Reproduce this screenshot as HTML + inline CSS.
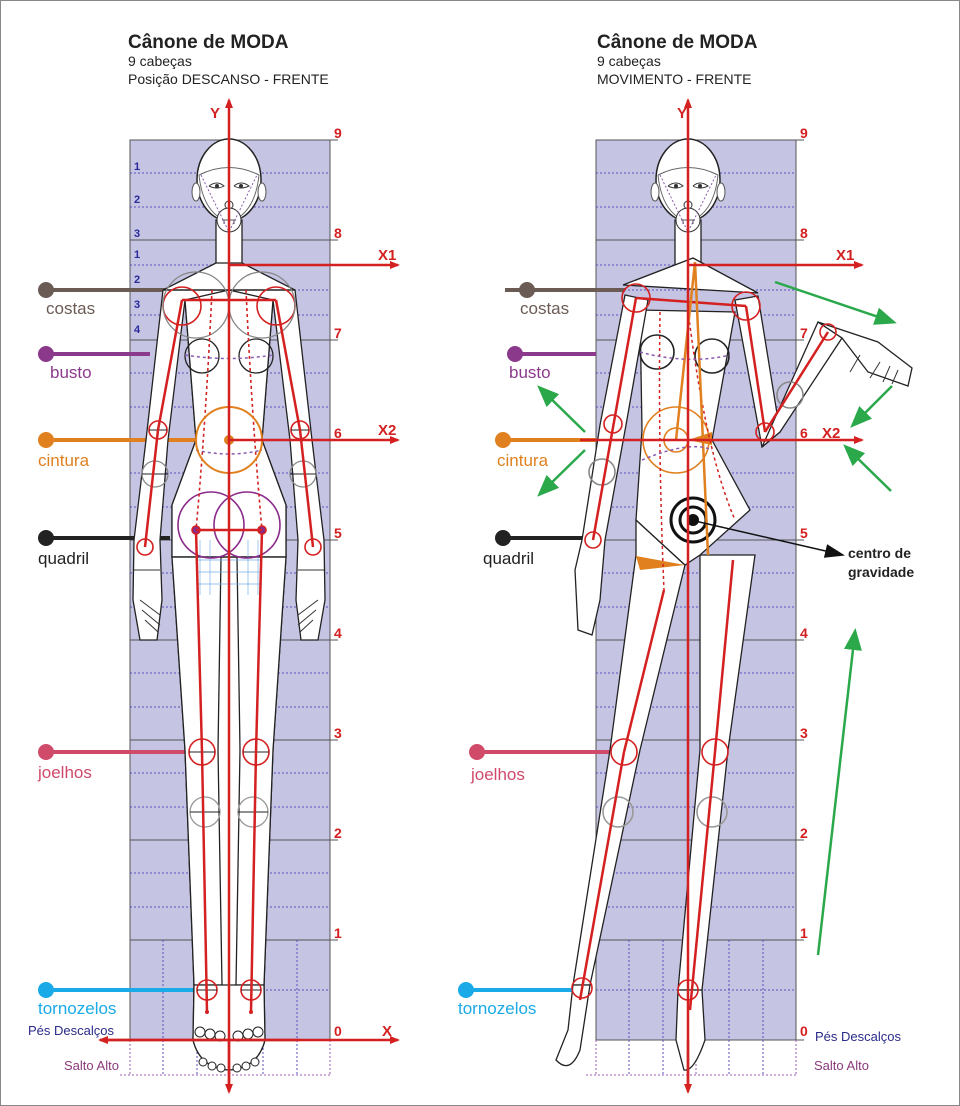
<!DOCTYPE html>
<html><head><meta charset="utf-8"><style>
html,body{margin:0;padding:0;background:#fff}
svg{display:block}
text{font-family:"Liberation Sans",sans-serif}
</style></head><body>
<svg width="960" height="1106" viewBox="0 0 960 1106" xmlns="http://www.w3.org/2000/svg">
<defs>
<marker id="ar" markerWidth="10" markerHeight="10" refX="8" refY="5" orient="auto" markerUnits="userSpaceOnUse"><path d="M0,1 L10,5 L0,9 z" fill="#d42020"/></marker>
<marker id="ag" markerWidth="22" markerHeight="18" refX="18" refY="9" orient="auto" markerUnits="userSpaceOnUse"><path d="M0,0 L22,9 L0,18 z" fill="#2aa84a"/></marker>
<marker id="ab" markerWidth="20" markerHeight="14" refX="18" refY="7" orient="auto" markerUnits="userSpaceOnUse"><path d="M0,0 L20,7 L0,14 z" fill="#111"/></marker>
<g id="grid">
<rect x="0" y="0" width="200" height="900" fill="#c5c4e2" stroke="#555" stroke-width="1"/>
<g stroke="#555" stroke-width="1">
<line x1="0" y1="100" x2="208" y2="100"/><line x1="0" y1="200" x2="208" y2="200"/><line x1="0" y1="300" x2="208" y2="300"/><line x1="0" y1="400" x2="208" y2="400"/><line x1="0" y1="500" x2="208" y2="500"/><line x1="0" y1="600" x2="208" y2="600"/><line x1="0" y1="700" x2="208" y2="700"/><line x1="0" y1="800" x2="208" y2="800"/><line x1="0" y1="0" x2="208" y2="0"/><line x1="0" y1="900" x2="208" y2="900"/>
</g>
<g stroke="#5a4fc0" stroke-width="1" stroke-dasharray="2,2">
<line x1="0" y1="33" x2="200" y2="33"/><line x1="0" y1="67" x2="200" y2="67"/>
<line x1="0" y1="125" x2="200" y2="125"/><line x1="0" y1="150" x2="200" y2="150"/><line x1="0" y1="175" x2="200" y2="175"/>
<line x1="0" y1="233" x2="200" y2="233"/><line x1="0" y1="267" x2="200" y2="267"/>
<line x1="0" y1="333" x2="200" y2="333"/><line x1="0" y1="367" x2="200" y2="367"/>
<line x1="0" y1="433" x2="200" y2="433"/><line x1="0" y1="467" x2="200" y2="467"/>
<line x1="0" y1="533" x2="200" y2="533"/><line x1="0" y1="567" x2="200" y2="567"/>
<line x1="0" y1="633" x2="200" y2="633"/><line x1="0" y1="667" x2="200" y2="667"/>
<line x1="0" y1="733" x2="200" y2="733"/><line x1="0" y1="767" x2="200" y2="767"/>
<line x1="0" y1="850" x2="200" y2="850"/>
<line x1="33" y1="800" x2="33" y2="935"/><line x1="67" y1="800" x2="67" y2="935"/><line x1="133" y1="800" x2="133" y2="935"/><line x1="167" y1="800" x2="167" y2="935"/>
</g>
<g stroke="#9a5ab0" stroke-width="1" stroke-dasharray="2,2" fill="none">
<line x1="-10" y1="935" x2="200" y2="935"/><line x1="0" y1="900" x2="0" y2="935"/><line x1="200" y1="900" x2="200" y2="935"/><line x1="100" y1="900" x2="100" y2="935"/>
</g>
<g fill="#d42020" font-size="14" font-weight="bold">
<text x="204" y="-2">9</text><text x="204" y="98">8</text><text x="204" y="198">7</text><text x="204" y="298">6</text><text x="204" y="398">5</text><text x="204" y="498">4</text><text x="204" y="598">3</text><text x="204" y="698">2</text><text x="204" y="798">1</text><text x="204" y="896">0</text>
</g>
</g>
<g id="head">
<ellipse cx="0" cy="40" rx="32" ry="41" fill="#fff" stroke="#222" stroke-width="1.5"/>
<path d="M-30,35 Q0,20 30,35 Q26,74 0,82 Q-26,74 -30,35" fill="none" stroke="#666"/>
<ellipse cx="-33" cy="52" rx="4" ry="9" fill="#fff" stroke="#555"/><ellipse cx="33" cy="52" rx="4" ry="9" fill="#fff" stroke="#555"/>
<path d="M-20,46 Q-12,40 -5,46 Q-12,50 -20,46 M5,46 Q12,40 20,46 Q12,50 5,46" fill="#fff" stroke="#333"/>
<circle cx="-12" cy="46" r="2" fill="#333"/><circle cx="12" cy="46" r="2" fill="#333"/>
<circle cx="0" cy="65" r="4" fill="#fff" stroke="#333"/>
<circle cx="0" cy="80" r="12" fill="#fff" stroke="#333"/>
<path d="M-7,80 h14 M-5,80 v4 M0,80 v4 M5,80 v4" stroke="#555" fill="none"/>
<path d="M-28,35 L0,92 L28,35" fill="none" stroke="#8a5ab0" stroke-dasharray="2,2"/>
</g>
<g id="half" fill="#fff" stroke="#222" stroke-width="1.3">
<path d="M216,263 L163,290 L146,440 L134,540 L133,600 L140,640 L157,640 L162,600 L160,540 L168,440 L185,300 L196,440 L172,505 L172,557 L185,750 L194,985 L193,1040 Q200,1068 229,1070 L229,557 L221,557 L221,540 L229,540 L229,263 z"/>
<path d="M185,300 L196,440 L172,505 L172,557 L229,557 L229,290 z"/>
<path d="M172,557 L185,750 L194,985 L222,985 L218,750 L221,557 z"/>
<path d="M194,985 L193,1040 Q200,1068 229,1070 L229,985 z"/>
<path d="M134,570 L160,570 M140,600 L160,615 M142,610 L160,625 M145,620 L158,632" fill="none" stroke="#333" stroke-width="1"/>
</g>
<g id="halfR" fill="none" stroke-width="1.6">
<circle cx="182" cy="306" r="19" stroke="#d42020"/>
<circle cx="196" cy="305" r="33" stroke="#888" stroke-width="1.3"/>
<circle cx="202" cy="356" r="17" stroke="#222" stroke-width="1.3"/>
<circle cx="158" cy="430" r="9" stroke="#d42020"/><line x1="149" y1="430" x2="167" y2="430" stroke="#222" stroke-width="1"/>
<circle cx="155" cy="474" r="13" stroke="#888" stroke-width="1.3"/><line x1="142" y1="474" x2="168" y2="474" stroke="#222" stroke-width="1"/>
<circle cx="145" cy="547" r="8" stroke="#d42020"/>
<circle cx="211" cy="525" r="33" stroke="#8a2a8a"/>
<circle cx="202" cy="752" r="13" stroke="#d42020"/><line x1="189" y1="752" x2="215" y2="752" stroke="#222" stroke-width="1"/>
<circle cx="205" cy="812" r="15" stroke="#999" stroke-width="1.3"/><line x1="190" y1="812" x2="220" y2="812" stroke="#222" stroke-width="1"/>
<circle cx="207" cy="990" r="10" stroke="#d42020"/><line x1="197" y1="990" x2="217" y2="990" stroke="#222" stroke-width="1"/>
<line x1="182" y1="300" x2="158" y2="430" stroke="#d42020" stroke-width="2.5"/>
<line x1="158" y1="430" x2="145" y2="547" stroke="#d42020" stroke-width="2.5"/>
<line x1="196" y1="530" x2="202" y2="752" stroke="#d42020" stroke-width="2.5"/>
<line x1="202" y1="752" x2="207" y2="1012" stroke="#d42020" stroke-width="2.5"/>
<path d="M212,290 Q206,420 196,530" stroke="#d42020" stroke-dasharray="3,3"/>
<circle cx="196" cy="530" r="4" fill="#8a2a8a" stroke="#d42020"/>
<circle cx="207" cy="1012" r="2" fill="#d42020"/>
<g stroke="#222" stroke-width="1"><circle cx="200" cy="1032" r="5" fill="#fff"/><circle cx="210" cy="1034" r="5" fill="#fff"/><circle cx="220" cy="1036" r="5" fill="#fff"/><circle cx="203" cy="1062" r="4" fill="#fff"/><circle cx="212" cy="1066" r="4" fill="#fff"/><circle cx="221" cy="1068" r="4" fill="#fff"/></g>
</g>
</defs>

<rect x="0.5" y="0.5" width="959" height="1105" fill="#fff" stroke="#888"/>

<!-- LEFT PANEL -->
<use href="#grid" transform="translate(130,140)"/>
<g stroke-width="4">
<line x1="46" y1="290" x2="165" y2="290" stroke="#6b5b55"/><circle cx="46" cy="290" r="8" fill="#6b5b55"/>
<line x1="46" y1="354" x2="150" y2="354" stroke="#8b3a8b"/><circle cx="46" cy="354" r="8" fill="#8b3a8b"/>
<line x1="46" y1="440" x2="196" y2="440" stroke="#e0801f"/><circle cx="46" cy="440" r="8" fill="#e0801f"/>
<line x1="46" y1="538" x2="170" y2="538" stroke="#222"/><circle cx="46" cy="538" r="8" fill="#222"/>
<line x1="46" y1="752" x2="190" y2="752" stroke="#d04a6a"/><circle cx="46" cy="752" r="8" fill="#d04a6a"/>
<line x1="46" y1="990" x2="194" y2="990" stroke="#1aaae8"/><circle cx="46" cy="990" r="8" fill="#1aaae8"/>
</g>
<g font-size="17">
<text x="46" y="314" fill="#6b5b55">costas</text>
<text x="50" y="378" fill="#8b3a8b">busto</text>
<text x="38" y="466" fill="#e0801f">cintura</text>
<text x="38" y="564" fill="#222">quadril</text>
<text x="38" y="778" fill="#d04a6a">joelhos</text>
<text x="38" y="1014" fill="#1aaae8">tornozelos</text>
</g>
<text x="28" y="1035" font-size="13" fill="#2a2a8a">Pés Descalços</text>
<text x="64" y="1070" font-size="13" fill="#8a3a7a">Salto Alto</text>
<g fill="#2a2a9a" font-size="11" font-weight="bold"><text x="134" y="170">1</text><text x="134" y="203">2</text><text x="134" y="237">3</text><text x="134" y="258">1</text><text x="134" y="283">2</text><text x="134" y="308">3</text><text x="134" y="333">4</text></g>
<rect x="216" y="220" width="26" height="53" fill="#fff" stroke="#222" stroke-width="1.3"/>
<use href="#half"/><use href="#half" transform="translate(458,0) scale(-1,1)"/>
<line x1="163" y1="290" x2="295" y2="290" stroke="#222" stroke-width="1.5"/>
<line x1="172" y1="557" x2="286" y2="557" stroke="#222" stroke-width="1.3"/>
<g stroke="#7ab0e8" stroke-width="0.7"><path d="M200,540 v55 M210,540 v55 M248,540 v55 M258,540 v55 M196,560 h66 M196,572 h66 M196,584 h66"/></g>
<use href="#head" transform="translate(229,140)"/>
<use href="#halfR"/><use href="#halfR" transform="translate(458,0) scale(-1,1)"/>
<line x1="182" y1="300" x2="276" y2="300" stroke="#d42020" stroke-width="2.5"/>
<line x1="196" y1="530" x2="262" y2="530" stroke="#d42020" stroke-width="2.5"/>
<path d="M185,355 Q229,362 273,355" fill="none" stroke="#8a5ab0" stroke-dasharray="3,3" stroke-width="1.5"/>
<path d="M196,450 Q229,458 262,450" fill="none" stroke="#8a5ab0" stroke-dasharray="3,3" stroke-width="1.5"/>
<circle cx="229" cy="440" r="33" fill="none" stroke="#e0801f" stroke-width="2"/>
<circle cx="229" cy="440" r="5" fill="#e0801f"/>
<g stroke="#d42020" stroke-width="2.5" fill="none">
<line x1="229" y1="1090" x2="229" y2="100" marker-end="url(#ar)"/>
<line x1="229" y1="1040" x2="229" y2="1092" marker-end="url(#ar)"/>
<line x1="229" y1="265" x2="398" y2="265" marker-end="url(#ar)"/>
<line x1="229" y1="440" x2="398" y2="440" marker-end="url(#ar)"/>
<line x1="100" y1="1040" x2="398" y2="1040" marker-end="url(#ar)"/>
<line x1="300" y1="1040" x2="100" y2="1040" marker-end="url(#ar)"/>
</g>
<g fill="#d42020" font-size="15" font-weight="bold"><text x="210" y="118">Y</text><text x="378" y="260">X1</text><text x="378" y="435">X2</text><text x="382" y="1036">X</text></g>
<text x="128" y="48" font-size="19" font-weight="bold" fill="#222">Cânone de MODA</text>
<text x="128" y="66" font-size="14" fill="#222">9 cabeças</text>
<text x="128" y="84" font-size="14" fill="#222">Posição DESCANSO  - FRENTE</text>

<!-- RIGHT PANEL -->
<use href="#grid" transform="translate(596,140)"/>
<g stroke-width="4">
<line x1="505" y1="290" x2="625" y2="290" stroke="#6b5b55"/><circle cx="527" cy="290" r="8" fill="#6b5b55"/>
<line x1="515" y1="354" x2="596" y2="354" stroke="#8b3a8b"/><circle cx="515" cy="354" r="8" fill="#8b3a8b"/>
<line x1="503" y1="440" x2="596" y2="440" stroke="#e0801f"/><circle cx="503" cy="440" r="8" fill="#e0801f"/>
<line x1="503" y1="538" x2="585" y2="538" stroke="#222"/><circle cx="503" cy="538" r="8" fill="#222"/>
<line x1="477" y1="752" x2="612" y2="752" stroke="#d04a6a"/><circle cx="477" cy="752" r="8" fill="#d04a6a"/>
<line x1="466" y1="990" x2="580" y2="990" stroke="#1aaae8"/><circle cx="466" cy="990" r="8" fill="#1aaae8"/>
</g>
<g font-size="17">
<text x="520" y="314" fill="#6b5b55">costas</text>
<text x="509" y="378" fill="#8b3a8b">busto</text>
<text x="497" y="466" fill="#e0801f">cintura</text>
<text x="483" y="564" fill="#222">quadril</text>
<text x="471" y="780" fill="#d04a6a">joelhos</text>
<text x="458" y="1014" fill="#1aaae8">tornozelos</text>
</g>
<text x="815" y="1041" font-size="13" fill="#2a2a8a">Pés Descalços</text>
<text x="814" y="1070" font-size="13" fill="#8a3a7a">Salto Alto</text>
<g fill="#fff" stroke="#222" stroke-width="1.3">
<rect x="675" y="220" width="26" height="45" />
<path d="M623,285 L693,258 L758,293 z"/>
<path d="M636,520 L685,565 L640,750 L590,985 L573,985 L610,750 L636,555 z"/>
<path d="M573,985 L590,985 L580,1050 Q570,1075 556,1060 L568,1030 z"/>
<path d="M700,555 L755,555 L728,750 L702,990 L678,990 L700,750 z"/>
<path d="M678,990 L702,990 L705,1040 Q694,1072 684,1070 L676,1040 z"/>
<path d="M640,310 L735,312 L712,440 L750,510 L700,555 L685,565 L636,520 L642,430 z"/>
<path d="M625,295 L648,300 L626,425 L605,540 L600,600 L592,635 L578,630 L575,570 L582,540 L600,425 z"/>
<path d="M735,300 L758,296 L780,432 L762,447 z"/>
<path d="M762,447 L780,432 L842,338 L818,322 z"/>
<path d="M818,322 L878,342 L912,368 L908,386 L868,372 L842,338 z"/>
<path d="M860,355 L850,372 M880,362 L870,378 M890,366 L883,382 M898,370 L892,384" stroke="#333" stroke-width="1" fill="none"/>
</g>
<path d="M636,556 L685,565 L640,570 z" fill="#e0801f"/>
<path d="M688,440 L712,432 L712,445 z" fill="#e0801f"/>
<g fill="none" stroke-width="1.6">
<circle cx="636" cy="298" r="14" stroke="#d42020"/><circle cx="746" cy="306" r="14" stroke="#d42020"/>
<circle cx="613" cy="424" r="9" stroke="#d42020"/><circle cx="602" cy="472" r="13" stroke="#888"/>
<circle cx="593" cy="540" r="8" stroke="#d42020"/>
<circle cx="765" cy="432" r="9" stroke="#d42020"/><circle cx="828" cy="332" r="8" stroke="#d42020"/><circle cx="790" cy="395" r="13" stroke="#888"/>
<circle cx="657" cy="352" r="17" stroke="#222"/><circle cx="712" cy="356" r="17" stroke="#222"/>
<circle cx="676" cy="440" r="33" stroke="#e0801f"/><circle cx="676" cy="440" r="12" stroke="#e0801f"/>
<circle cx="624" cy="752" r="13" stroke="#d42020"/><circle cx="715" cy="752" r="13" stroke="#d42020"/>
<circle cx="618" cy="812" r="15" stroke="#999"/><circle cx="712" cy="812" r="15" stroke="#999"/>
<circle cx="582" cy="988" r="10" stroke="#d42020"/><circle cx="688" cy="990" r="10" stroke="#d42020"/>
<circle cx="693" cy="520" r="22" stroke="#111" stroke-width="3"/><circle cx="693" cy="520" r="13" stroke="#111" stroke-width="3"/>
</g>
<circle cx="693" cy="520" r="6" fill="#111"/>
<g stroke="#d42020" stroke-width="2.5" fill="none">
<line x1="636" y1="298" x2="746" y2="306"/>
<line x1="636" y1="298" x2="593" y2="540"/>
<line x1="746" y1="306" x2="765" y2="432"/><line x1="765" y1="432" x2="828" y2="332"/>
<line x1="664" y1="590" x2="624" y2="752"/><line x1="624" y1="752" x2="580" y2="1000"/>
<line x1="733" y1="560" x2="715" y2="752"/><line x1="715" y1="752" x2="690" y2="1010"/>
<path d="M660,312 Q658,450 664,590" stroke-dasharray="3,3" stroke-width="1.5"/>
<path d="M688,310 Q705,450 735,520" stroke-dasharray="3,3" stroke-width="1.5"/>
</g>
<line x1="695" y1="262" x2="708" y2="555" stroke="#e0801f" stroke-width="2.5"/>
<line x1="695" y1="262" x2="676" y2="440" stroke="#e0801f" stroke-width="2.5"/>
<path d="M640,352 Q688,365 730,355 M642,460 Q690,440 712,450" fill="none" stroke="#8a5ab0" stroke-dasharray="3,3" stroke-width="1.5"/>
<use href="#head" transform="translate(688,140)"/>
<g stroke="#d42020" stroke-width="2.5" fill="none">
<line x1="688" y1="1090" x2="688" y2="100" marker-end="url(#ar)"/>
<line x1="688" y1="1040" x2="688" y2="1092" marker-end="url(#ar)"/>
<line x1="688" y1="265" x2="862" y2="265" marker-end="url(#ar)"/>
<line x1="580" y1="440" x2="862" y2="440" marker-end="url(#ar)"/>
</g>
<g fill="#d42020" font-size="15" font-weight="bold"><text x="677" y="118">Y</text><text x="836" y="260">X1</text><text x="822" y="438">X2</text></g>
<g stroke="#2aa84a" stroke-width="2.5" fill="none">
<line x1="775" y1="282" x2="893" y2="322" marker-end="url(#ag)"/>
<line x1="892" y1="386" x2="853" y2="425" marker-end="url(#ag)"/>
<line x1="891" y1="491" x2="846" y2="447" marker-end="url(#ag)"/>
<line x1="585" y1="432" x2="540" y2="388" marker-end="url(#ag)"/>
<line x1="585" y1="450" x2="540" y2="494" marker-end="url(#ag)"/>
<line x1="818" y1="955" x2="855" y2="632" marker-end="url(#ag)"/>
</g>
<line x1="695" y1="521" x2="843" y2="555" stroke="#111" stroke-width="1.5" marker-end="url(#ab)"/>
<text x="848" y="558" font-size="14" font-weight="bold" fill="#222">centro de</text>
<text x="848" y="577" font-size="14" font-weight="bold" fill="#222">gravidade</text>
<text x="597" y="48" font-size="19" font-weight="bold" fill="#222">Cânone de MODA</text>
<text x="597" y="66" font-size="14" fill="#222">9 cabeças</text>
<text x="597" y="84" font-size="14" fill="#222">MOVIMENTO - FRENTE</text>
</svg>
</body></html>
